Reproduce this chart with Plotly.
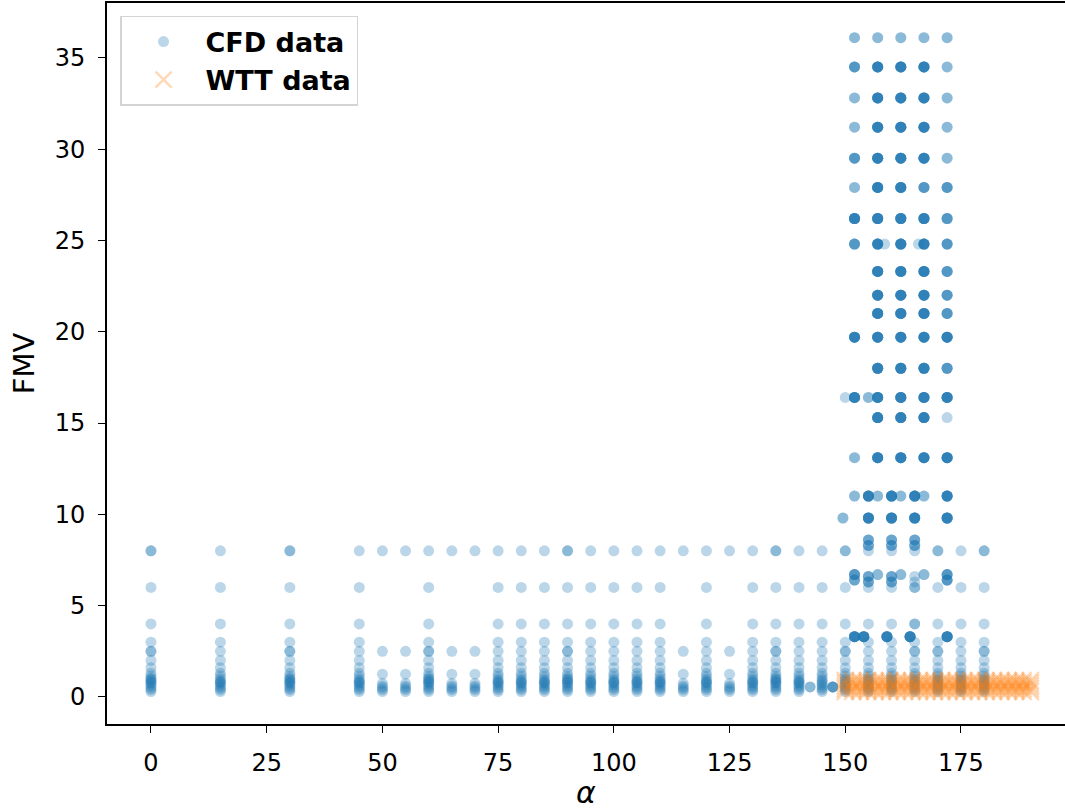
import plotly.graph_objects as go

# ---------------- CFD data ----------------
# angles with the full set of low-FMV cases
full_alpha = [0, 15, 30, 45, 60, 75, 80, 85, 90, 95, 100, 105, 110, 120, 130,
              135, 140, 145, 150, 155, 160, 165, 170, 175, 180]
full_fmv = [8.0, 6.0, 4.0, 3.0, 2.5, 2.0, 1.6, 1.3, 1.15, 1.0, 0.9, 0.8, 0.7,
            0.6, 0.5, 0.4, 0.3]

# angles with a reduced set of cases
sparse_alpha = [50, 55, 65, 70, 115, 125]
sparse_fmv = [8.0, 2.5, 1.25, 0.75, 0.6, 0.5, 0.4, 0.3]

# repeated low-FMV cases (same angle / FMV run more than once)
dup_alpha = [0, 30, 90, 135, 150, 170, 180, 0, 30, 60, 90, 135, 150, 165,
             170, 180, 165, 165, 0, 30, 60, 90, 135, 0, 15, 30, 45, 60, 75,
             80, 85, 90, 95, 100, 105, 110, 120, 130, 135, 140]
dup_fmv = [8.0, 8.0, 8.0, 8.0, 8.0, 8.0, 8.0, 2.5, 2.5, 2.5, 2.5, 2.5, 2.5,
           2.5, 2.5, 2.5, 4.0, 6.0, 1.0, 1.0, 1.0, 1.0, 1.0, 0.8, 0.8, 0.8,
           0.8, 0.8, 0.8, 0.8, 0.8, 0.8, 0.8, 0.8, 0.8, 0.8, 0.8, 0.8, 0.8,
           0.8]

# high-FMV sweep: angles x FMV levels, with number of runs per cell
hi_alpha = [152, 157, 162, 167, 172]
hi_fmv = [36.1, 34.5, 32.8, 31.2, 29.5, 27.9, 26.2, 24.8, 23.3, 22.0, 21.0,
          19.7, 18.0, 16.4, 15.3, 13.1, 11.0]
hi_count = [
    [2, 2, 2, 2, 2],
    [4, 7, 7, 7, 2],
    [2, 7, 7, 7, 2],
    [2, 7, 7, 7, 2],
    [4, 7, 7, 7, 2],
    [2, 7, 7, 4, 4],
    [7, 7, 7, 7, 4],
    [4, 7, 7, 7, 4],
    [0, 7, 7, 7, 4],
    [0, 7, 7, 7, 4],
    [0, 7, 7, 7, 4],
    [7, 7, 7, 7, 7],
    [0, 7, 7, 7, 4],
    [7, 7, 7, 7, 7],
    [0, 7, 7, 7, 1],
    [2, 7, 7, 7, 7],
    [2, 2, 2, 2, 7],
]

# further individual CFD cases near the high-FMV sweep
extra_alpha = [158.5, 165.8, 150, 155, 155, 160, 165, 149.5, 155, 160, 165,
               172, 155, 155, 160, 160, 165, 165, 152, 152, 155, 155, 157,
               160, 160, 162, 165, 165, 167, 172, 172, 152, 154, 159, 164,
               172, 142.4, 147.3]
extra_fmv = [24.8, 24.8, 16.4, 16.4, 11.0, 11.0, 11.0, 9.8, 9.8, 9.8, 9.8,
             9.8, 8.6, 8.3, 8.6, 8.3, 8.6, 8.3, 6.7, 6.4, 6.6, 6.3, 6.7,
             6.6, 6.3, 6.7, 6.6, 6.3, 6.7, 6.7, 6.4, 3.3, 3.3, 3.3, 3.3,
             3.3, 0.55, 0.55]
extra_count = [1, 1, 1, 2, 7, 7, 7, 2, 7, 7, 7,
               7, 3, 3, 3, 3, 3, 3, 4, 3, 3, 3, 2,
               3, 3, 2, 1, 1, 2, 4, 4, 7, 7, 7, 7,
               7, 2, 4]

# ---------------- WTT data ----------------
wtt_alpha = [150.0, 151.6, 153.2, 154.8, 156.4, 158.0, 159.6, 161.2, 162.8,
             164.4, 166.0, 167.6, 169.2, 170.8, 172.4, 174.0, 175.6, 177.2,
             178.8, 180.4, 182.0, 183.6, 185.2, 186.8, 188.4, 190.0]
wtt_fmv = [0.3, 0.45, 0.6, 0.75, 0.9]

x_ticks = [0, 25, 50, 75, 100, 125, 150, 175]
y_ticks = [0, 5, 10, 15, 20, 25, 30, 35]

# ---------------- assemble point lists ----------------
cfd_x, cfd_y = [], []
for a in full_alpha:
    for f in full_fmv:
        cfd_x.append(a)
        cfd_y.append(f)
for a in sparse_alpha:
    for f in sparse_fmv:
        cfd_x.append(a)
        cfd_y.append(f)
cfd_x += dup_alpha
cfd_y += dup_fmv
for f, row in zip(hi_fmv, hi_count):
    for a, n in zip(hi_alpha, row):
        cfd_x += [a] * n
        cfd_y += [f] * n
for a, f, n in zip(extra_alpha, extra_fmv, extra_count):
    cfd_x += [a] * n
    cfd_y += [f] * n

wtt_x, wtt_y = [], []
for a in wtt_alpha:
    for f in wtt_fmv:
        wtt_x.append(a)
        wtt_y.append(f)

BLUE = "#1f77b4"
ORANGE = "#ff7f0e"
FONT = "DejaVu Sans"

fig = go.Figure()
fig.add_trace(go.Scatter(
    x=cfd_x, y=cfd_y, mode="markers", name="CFD data",
    marker=dict(color=BLUE, size=11, opacity=0.3, line=dict(width=0)),
))
fig.add_trace(go.Scatter(
    x=wtt_x, y=wtt_y, mode="markers", name="WTT data",
    marker=dict(color=ORANGE, size=17, opacity=0.3, symbol="x-thin",
                line=dict(color=ORANGE, width=2.4)),
))

axis_common = dict(
    showgrid=False, zeroline=False, showline=True, linecolor="black",
    linewidth=1.6, ticks="outside", ticklen=7, tickwidth=1.4,
    tickcolor="black", tickfont=dict(family=FONT, size=24, color="black"),
)

fig.update_xaxes(
    range=[-9.5, 197.47], tickvals=x_ticks, mirror=True,
    title=dict(text="α", font=dict(family=FONT, size=30, color="black",
                                   style="italic"), standoff=9),
    ticklabelstandoff=9,
    **axis_common,
)
fig.update_yaxes(
    range=[-1.48, 38.0], tickvals=y_ticks, mirror=False,
    title=dict(text="FMV", font=dict(family=FONT, size=29, color="black"),
               standoff=12),
    ticklabelstandoff=8,
    **axis_common,
)

fig.update_layout(
    width=1065, height=810,
    margin=dict(l=107, r=0, t=3, b=86, autoexpand=False),
    plot_bgcolor="white", paper_bgcolor="white",
    font=dict(family=FONT, color="black"),
    legend=dict(
        x=0.0136, y=0.982, xanchor="left", yanchor="top",
        bgcolor="white", bordercolor="#d4d4d4", borderwidth=1.5,
        font=dict(family=FONT, size=27, color="black", weight="bold"),
        itemwidth=74,
    ),
    showlegend=True,
)

fig.write_html("out.html")
